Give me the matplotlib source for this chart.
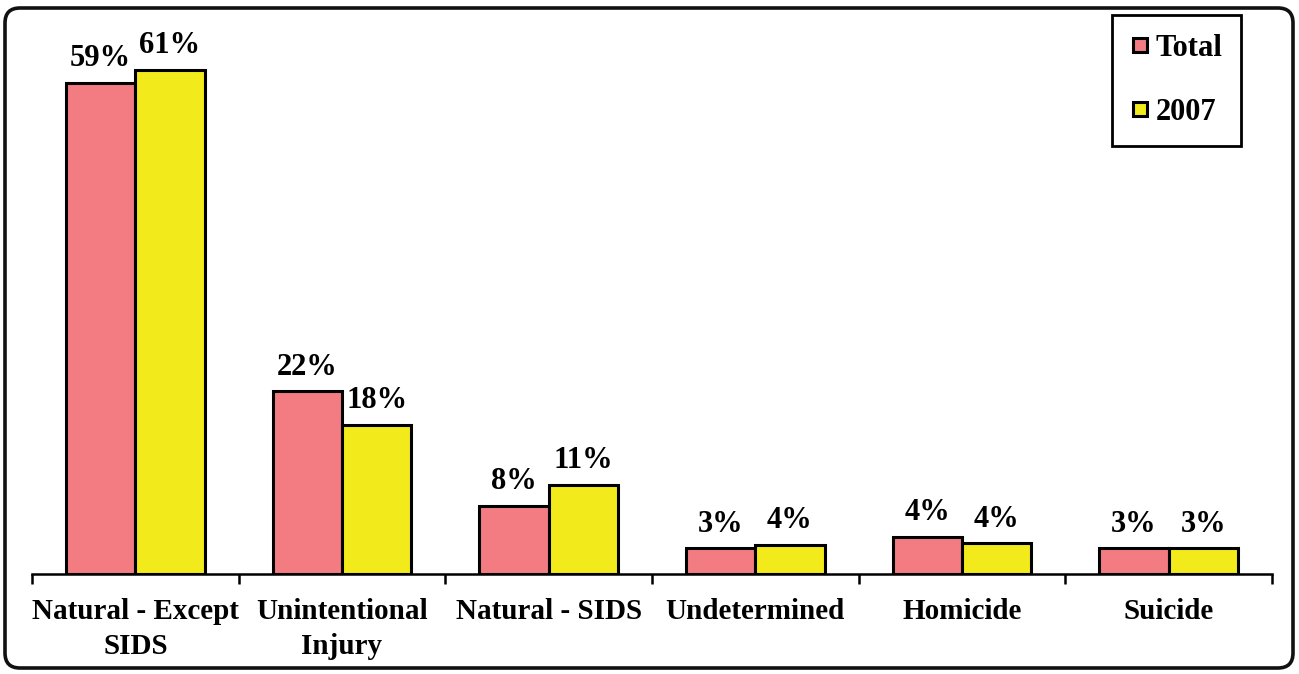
import matplotlib
matplotlib.use("Agg")
import matplotlib.pyplot as plt
from matplotlib.patches import FancyBboxPatch
from matplotlib.lines import Line2D
import numpy as np

categories = ["Natural - Except\nSIDS", "Unintentional\nInjury", "Natural - SIDS",
              "Undetermined", "Homicide", "Suicide"]
total_vals = [59.2, 22.0, 8.2, 3.1, 4.5, 3.1]
y2007_vals = [60.7, 18.0, 10.7, 3.5, 3.7, 3.1]
total_labels = ["59%", "22%", "8%", "3%", "4%", "3%"]
y2007_labels = ["61%", "18%", "11%", "4%", "4%", "3%"]
series_names = ["Total", "2007"]

PINK = "#F27C82"
YELLOW = "#F2EA1A"
FONT = ["Liberation Serif", "DejaVu Serif"]

plt.rcParams["font.family"] = FONT
plt.rcParams["font.weight"] = "bold"

fig = plt.figure(figsize=(12.99, 6.74), dpi=100)
ax = fig.add_axes([32 / 1299, 100 / 674, (1272 - 32) / 1299, (574 - 20) / 674])

x = np.arange(len(categories))
w = 0.335
b1 = ax.bar(x - w / 2, total_vals, w, color=PINK, edgecolor="black", linewidth=2.2, zorder=3)
b2 = ax.bar(x + w / 2, y2007_vals, w, color=YELLOW, edgecolor="black", linewidth=2.2, zorder=3)

for bars, labs in ((b1, total_labels), (b2, y2007_labels)):
    for r, lab in zip(bars, labs):
        ax.annotate(lab, (r.get_x() + r.get_width() / 2, r.get_height()),
                    xytext=(0, 7), textcoords="offset points", ha="center", va="bottom",
                    fontsize=22, fontweight="bold")

ax.set_xlim(-0.5, len(categories) - 0.5)
ax.set_ylim(0, 554 / 8.3)
for s in ("top", "right", "left"):
    ax.spines[s].set_visible(False)
ax.spines["bottom"].set_linewidth(1.8)
ax.set_yticks([])
ax.set_xticks(x)
ax.set_xticklabels(categories, fontsize=21, fontweight="bold", linespacing=1.4)
ax.tick_params(axis="x", which="major", length=0, pad=17)
ax.set_xticks(np.arange(-0.5, len(categories)), minor=True)
ax.tick_params(axis="x", which="minor", length=7, width=1.8, direction="out")

handles = [Line2D([], [], linestyle="none", marker="s", markersize=9.5, markerfacecolor=c,
                  markeredgecolor="black", markeredgewidth=2.2) for c in (PINK, YELLOW)]
leg = fig.legend(handles, series_names, loc="upper left",
                 bbox_to_anchor=(1112 / 1299, 1 - 15 / 674), borderaxespad=0,
                 fancybox=False, edgecolor="black", framealpha=1,
                 prop={"family": FONT, "weight": "bold", "size": 22},
                 handlelength=0.6, handletextpad=0.2, labelspacing=1.15, borderpad=0.62)
leg.get_frame().set_linewidth(2.0)

border = FancyBboxPatch((0.05, 0.06), 12.88, 6.60, boxstyle="round,pad=0,rounding_size=0.15",
                        transform=fig.dpi_scale_trans, facecolor="none", edgecolor="#111111",
                        linewidth=2.6)
fig.patches.append(border)

fig.savefig("out.png", dpi=100)
